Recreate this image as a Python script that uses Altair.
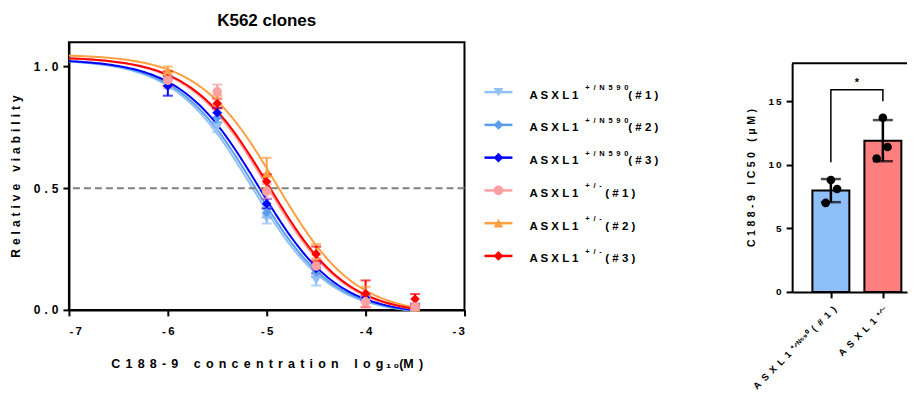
import altair as alt
import pandas as pd

FONT = "Liberation Sans"
EN = "\u2002"      # en space
THIRD = "\u2004"   # three-per-em space
THIN = "\u2009"    # thin space
GAP = "\u2004\u200a"


def sp(s, sep=" "):
    return sep.join(s)


# ---------------- data: dose response ----------------
log_conc = [-6, -5.5, -5, -4.5, -4, -3.5]
series = ["N590_1", "N590_2", "N590_3", "het_1", "het_2", "het_3"]
colors = ["#93c0f5", "#5a9fee", "#0000ff", "#ffa0a0", "#ffa040", "#ff0000"]
shapes = ["triangle-down", "diamond", "diamond", "circle", "triangle-up", "diamond"]
draw_order = ["N590_1", "N590_2", "N590_3", "het_2", "het_3", "het_1"]

vals = {
    "N590_1": [0.93, 0.75, 0.375, 0.12, 0.04, 0.01],
    "N590_2": [0.94, 0.79, 0.40, 0.155, 0.045, 0.01],
    "N590_3": [0.92, 0.81, 0.436, 0.17, 0.05, 0.015],
    "het_1": [0.944, 0.896, 0.487, 0.18, 0.033, 0.012],
    "het_2": [0.98, 0.86, 0.56, 0.24, 0.075, 0.01],
    "het_3": [0.95, 0.848, 0.527, 0.23, 0.066, 0.045],
}
sds = {
    "N590_1": [0.02, 0.02, 0.02, 0.02, 0.01, 0.01],
    "N590_2": [0.02, 0.02, 0.02, 0.02, 0.01, 0.01],
    "N590_3": [0.04, 0.02, 0.02, 0.02, 0.01, 0.01],
    "het_1": [0.03, 0.03, 0.03, 0.03, 0.02, 0.01],
    "het_2": [0.02, 0.02, 0.065, 0.03, 0.02, 0.01],
    "het_3": [0.03, 0.02, 0.03, 0.03, 0.055, 0.02],
}

# fitted 4PL parameters
fit_top = [1.03, 1.03, 1.03, 1.04, 1.05, 1.04]
fit_bottom = [-0.02, -0.02, -0.02, -0.02, -0.02, -0.02]
fit_logic50 = [-5.15, -5.12, -5.08, -5.0, -4.9, -4.98]
fit_hill = [1.1, 1.1, 1.1, 1.1, 1.1, 1.1]

# legend texts
leg_sup = ["+/N590", "+/N590", "+/N590", "+/-", "+/-", "+/-"]
leg_suf = ["(#1)", "(#2)", "(#3)", "(#1)", "(#2)", "(#3)"]

# ---------------- data: IC50 bars ----------------
bar_names = ["ASXL1 +/N590 (#1)", "ASXL1 +/-"]
bar_labels = [sp("ASXL1", EN) + EN + "⁺ᐟᴺ⁵⁹⁰" + EN + sp("(#1)", EN),
              sp("ASXL1", EN) + EN + "⁺ᐟ⁻"]
bar_pos = [0, 1]
bar_mean = [7.97, 11.9]
bar_sd = [0.91, 1.62]
bar_colors = ["#8fbff8", "#ff7f7f"]
dot_group = [0, 0, 0, 1, 1, 1]
dot_jitter = [0.0, 0.12, -0.1, 0.0, 0.09, -0.12]
dot_val = [8.8, 8.1, 7.0, 13.7, 11.4, 10.5]
bracket_x = [0, 0, 1, 1]
bracket_y = [10.2, 15.9, 15.9, 15.0]

# ---------------- tables ----------------
rows = []
for s in draw_order:
    for x, v, e in zip(log_conc, vals[s], sds[s]):
        rows.append({"series": s, "x": x, "val": v, "lo": v - e, "hi": v + e})
df_pts = pd.DataFrame(rows)

df_par = pd.DataFrame({
    "series": series, "top": fit_top, "bottom": fit_bottom,
    "logic50": fit_logic50, "hill": fit_hill,
})

df_leg = pd.DataFrame({
    "series": series, "row": list(range(6)),
    "base": [sp("ASXL1")] * 6,
    "sup": [sp(t, EN) for t in leg_sup],
    "suf": [sp(t) for t in leg_suf],
    "grp": ["a", "a", "a", "b", "b", "b"],
})

df_bar = pd.DataFrame({"name": bar_names, "pos": bar_pos, "mean": bar_mean,
                       "lo": [m - s for m, s in zip(bar_mean, bar_sd)],
                       "hi": [m + s for m, s in zip(bar_mean, bar_sd)]})
df_dot = pd.DataFrame({"xp": [g + j for g, j in zip(dot_group, dot_jitter)], "val": dot_val})
df_br = pd.DataFrame({"x": bracket_x, "y": bracket_y, "o": list(range(4))})

# ---------------- left panel ----------------
color_scale = alt.Scale(domain=series, range=colors)
shape_scale = alt.Scale(domain=series, range=shapes)
xsc = alt.Scale(domain=[-7, -3], nice=False, zero=False)
ysc = alt.Scale(domain=[0, 1.1], nice=False, zero=False)

x_title = (sp("C188-9", GAP) + GAP * 3 + sp("concentration", GAP) + GAP * 3 +
           sp("log", GAP) + THIN + "₁" + THIN + "₀" + "(M" + GAP + ")")
y_title = sp("Relative", THIRD) + THIRD * 3 + sp("viability", THIRD)

x_axis = alt.Axis(values=[-7, -6, -5, -4, -3],
                  labelExpr="(datum.value < 0 ? '-\u2009' : '') + abs(datum.value)",
                  title=x_title, labelPadding=10, titlePadding=20,
                  labelFontSize=11.5, titleFontSize=12.5)
y_axis = alt.Axis(values=[0, 0.5, 1.0],
                  labelExpr="join(split(format(datum.value, '.1f'), ''), '\u2004')",
                  title=y_title, labelPadding=5, titlePadding=11,
                  labelFontSize=12, titleFontSize=12)

X = alt.X("x:Q", scale=xsc, axis=x_axis)
Y = alt.Y("val:Q", scale=ysc, axis=y_axis)
C = alt.Color("series:N", scale=color_scale, legend=None)

curves = alt.Chart(df_par).transform_calculate(
    xs="sequence(-7, -3.49, 0.02)"
).transform_flatten(["xs"]).transform_calculate(
    yv="datum.bottom + (datum.top - datum.bottom) / (1 + pow(10, (datum.xs - datum.logic50) * datum.hill))"
).mark_line(strokeWidth=2).encode(
    x=alt.X("xs:Q", scale=xsc, axis=x_axis),
    y=alt.Y("yv:Q", scale=ysc, axis=y_axis),
    color=C, detail="series:N",
)

half = alt.Chart(pd.DataFrame({"y": [0.5]})).mark_rule(
    strokeDash=[7, 4], color="#808080", strokeWidth=2
).encode(y=alt.Y("y:Q", scale=ysc, axis=y_axis))

base = alt.Chart(df_pts)
err = base.mark_rule(strokeWidth=2).encode(
    x=X, y=alt.Y("lo:Q", scale=ysc, axis=y_axis), y2="hi:Q", color=C)
cap_hi = base.mark_tick(orient="horizontal", size=10, thickness=2).encode(
    x=X, y=alt.Y("hi:Q", scale=ysc, axis=y_axis), color=C)
cap_lo = base.mark_tick(orient="horizontal", size=10, thickness=2).encode(
    x=X, y=alt.Y("lo:Q", scale=ysc, axis=y_axis), color=C)
pts = base.mark_point(filled=True, size=90, opacity=1).encode(
    x=X, y=Y, color=C,
    shape=alt.Shape("series:N", scale=shape_scale, legend=None),
)

left = alt.layer(curves, half, err, cap_hi, cap_lo, pts).properties(
    width=396, height=268,
    title=alt.TitleParams("K562 clones", font=FONT, fontSize=17, fontWeight="bold",
                          anchor="middle", offset=12, color="black"),
    view=alt.ViewBackground(stroke="black", strokeWidth=2),
)

# ---------------- legend panel ----------------
ly = alt.Y("row:Q", scale=alt.Scale(domain=[0, 5], range=[50, 214], nice=False, zero=False), axis=None)
lb = alt.Chart(df_leg)
leg_line = lb.mark_rule(strokeWidth=2.5).encode(
    x=alt.value(17), x2=alt.value(45), y=ly, color=C)
leg_sym = lb.mark_point(filled=True, size=95, opacity=1).encode(
    x=alt.value(31), y=ly, color=C,
    shape=alt.Shape("series:N", scale=shape_scale, legend=None))
txt = dict(font=FONT, fontWeight="bold", color="black", align="left", baseline="middle")
leg_base = lb.mark_text(fontSize=11.5, dy=3.5, **txt).encode(x=alt.value(62), y=ly, text="base:N")
leg_sup_t = lb.mark_text(fontSize=7.5, dy=-4, **txt).encode(x=alt.value(118), y=ly, text="sup:N")
leg_suf_a = lb.transform_filter("datum.grp == 'a'").mark_text(fontSize=11.5, dy=3.5, **txt).encode(
    x=alt.value(161), y=ly, text="suf:N")
leg_suf_b = lb.transform_filter("datum.grp == 'b'").mark_text(fontSize=11.5, dy=3.5, **txt).encode(
    x=alt.value(138), y=ly, text="suf:N")

legend = alt.layer(leg_line, leg_sym, leg_base, leg_sup_t, leg_suf_a, leg_suf_b).properties(
    width=277, height=268)

# ---------------- right panel ----------------
rx = alt.Scale(domain=[-0.649, 1.368], nice=False, zero=False)
ry = alt.Scale(domain=[0, 18], nice=False, zero=False)
rx_axis = alt.Axis(values=[0, 1], labelAngle=-45, labelFontSize=9.5,
                   labelExpr="datum.value == 0 ? '%s' : '%s'" % (bar_labels[0], bar_labels[1]),
                   title=None, labelPadding=6)
ry_axis = alt.Axis(values=[0, 5, 10, 15],
                   labelExpr="join(split(format(datum.value, 'd'), ''), '\u2009')",
                   title=sp("C188-9", THIRD) + THIRD * 3 + sp("IC50", THIRD) + THIRD * 3 + sp("(μM)", THIRD),
                   labelPadding=5, titlePadding=12, titleFontSize=10.5, labelFontSize=10)
RX = alt.X("pos:Q", scale=rx, axis=rx_axis)

bars = alt.Chart(df_bar).mark_bar(size=37, stroke="black", strokeWidth=2).encode(
    x=RX, y=alt.Y("mean:Q", scale=ry, axis=ry_axis),
    fill=alt.Fill("name:N", scale=alt.Scale(domain=bar_names, range=bar_colors), legend=None))
top_line = alt.Chart(pd.DataFrame({"y": [18]})).mark_rule(color="black", strokeWidth=2).encode(
    y=alt.Y("y:Q", scale=ry, axis=ry_axis))
berr = alt.Chart(df_bar).mark_rule(color="black", strokeWidth=2.5).encode(
    x=RX, y=alt.Y("lo:Q", scale=ry, axis=ry_axis), y2="hi:Q")
bcap_hi = alt.Chart(df_bar).mark_tick(orient="horizontal", size=20, thickness=2.5, color="black").encode(
    x=RX, y=alt.Y("hi:Q", scale=ry, axis=ry_axis))
bcap_lo = alt.Chart(df_bar).mark_tick(orient="horizontal", size=20, thickness=2.5, color="black").encode(
    x=RX, y=alt.Y("lo:Q", scale=ry, axis=ry_axis))
dots = alt.Chart(df_dot).mark_circle(size=75, color="black", opacity=1).encode(
    x=alt.X("xp:Q", scale=rx, axis=rx_axis), y=alt.Y("val:Q", scale=ry, axis=ry_axis))
bracket = alt.Chart(df_br).mark_line(color="black", strokeWidth=1.5).encode(
    x=alt.X("x:Q", scale=rx, axis=rx_axis), y=alt.Y("y:Q", scale=ry, axis=ry_axis), order="o:Q")
star = alt.Chart(pd.DataFrame({"x": [0.5], "y": [16.4], "t": ["*"]})).mark_text(
    font=FONT, fontSize=11, fontWeight="bold", color="black").encode(
    x=alt.X("x:Q", scale=rx, axis=rx_axis), y=alt.Y("y:Q", scale=ry, axis=ry_axis), text="t:N")

right = alt.layer(bars, top_line, berr, bcap_hi, bcap_lo, dots, bracket, star).properties(
    width=115, height=229)

spacer = alt.Chart(pd.DataFrame({"a": [0]})).mark_point(opacity=0).encode(
    x=alt.value(0), y=alt.value(0)).properties(width=115, height=18)

right_col = alt.vconcat(spacer, right, spacing=0)

chart = alt.hconcat(
    left, legend, right_col, spacing=0,
    padding={"left": 0, "top": 3, "right": 0, "bottom": 0},
).configure_view(
    stroke="transparent"
).configure_axis(
    domainColor="black", domainWidth=2, tickColor="black", tickWidth=2, tickSize=6,
    labelFont=FONT, labelFontWeight="bold", labelColor="black", labelFontSize=11,
    titleFont=FONT, titleFontWeight="bold", titleColor="black", titleFontSize=11,
    grid=False,
)

chart.save("out.html", embed_options={"renderer": "svg", "actions": False})
